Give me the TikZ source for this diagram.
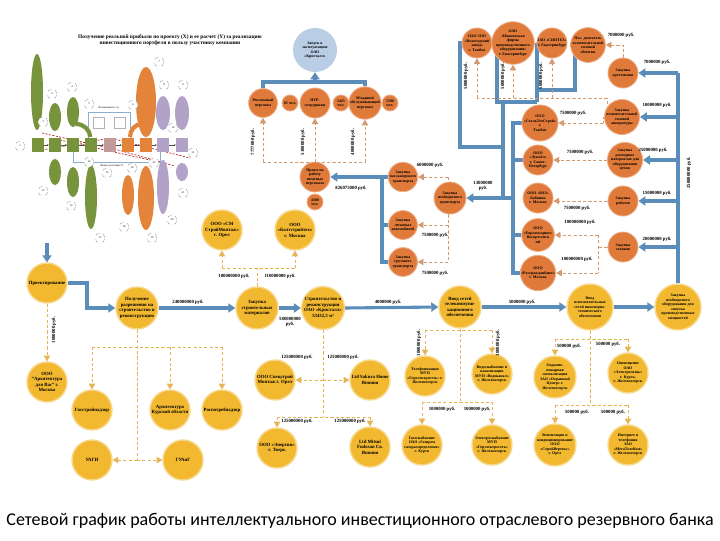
\documentclass[tikz,border=0pt]{standalone}
\usepackage{fontspec}
\setmainfont{Liberation Serif}
\newfontfamily\capfont{Carlito}
\usetikzlibrary{arrows.meta,shapes.geometric}
\definecolor{ygold}{HTML}{F2B830}
\definecolor{orng}{HTML}{E07A3A}
\definecolor{lblue}{HTML}{B9CDE5}
\definecolor{blu}{HTML}{5B8DBA}
\definecolor{ydsh}{HTML}{E6B455}
\definecolor{odsh}{HTML}{D39A70}
\definecolor{mgreen}{HTML}{77933C}
\definecolor{morange}{HTML}{E4843A}
\definecolor{mlav}{HTML}{B3A2C7}
\definecolor{mpink}{HTML}{C39A9A}
\pgfdeclarelayer{back}
\pgfdeclarelayer{bg}
\pgfsetlayers{back,bg,main}
\begin{document}
\begin{tikzpicture}[x=0.025cm,y=-0.025cm,
 txt/.style={font=\fontsize{3.4}{3.9}\selectfont\bfseries},
 stxt/.style={font=\fontsize{2.8}{3.2}\selectfont\bfseries},
 yc/.style={circle,fill=ygold,draw=ygold!55,line width=1pt,inner sep=0pt,minimum size=1cm,align=center,txt},
 ys/.style={yc,stxt},
 oc/.style={circle,fill=orng,draw=orng!60,line width=0.6pt,inner sep=0pt,minimum size=0.75cm,align=center,stxt},
 os/.style={circle,fill=orng,draw=orng!60,line width=0.6pt,inner sep=0pt,minimum size=0.4cm,align=center,stxt},
 bl/.style={draw=blu,line width=2.2pt},
 ba/.style={bl,-{Triangle[length=5pt,width=6.5pt]}},
 yd/.style={draw=ydsh,line width=0.6pt,dash pattern=on 2.2pt off 1.6pt},
 yda/.style={yd,-{Triangle[length=4pt,width=4.5pt]}},
 od/.style={draw=odsh,line width=0.6pt,dash pattern=on 2.2pt off 1.6pt},
 oda/.style={od,-{Triangle[length=4pt,width=4.5pt]}},
 lab/.style={txt,inner sep=0.5pt},
 mc/.style={draw=gray!70,dashed,line width=0.3pt,fill=white},
]
\begin{pgfonlayer}{back}
\fill[white] (0,0) rectangle (720,540);
\end{pgfonlayer}
\useasboundingbox (0,0) rectangle (720,540);

% ---------------- mini diagram (top left) ----------------
\node[font=\fontsize{3.8}{4.3}\selectfont\bfseries,align=center] (mtitle) at (170,40)
 {Получение реальной прибыли по проекту (X) и ее расчет (Y) за реализацию\\инвестиционного портфеля в пользу участнику компании};
\draw[blu!70,line width=0.5pt] (88,150) -- (88,112) -- (130,112) -- (130,150);
\node[font=\fontsize{2}{2.3}\selectfont] (mtop) at (109,108) {Вложения (в т.ч.)};
\fill[white,draw=gray!60,line width=0.2pt] (93,117) rectangle (104,128);
\fill[white,draw=gray!60,line width=0.2pt] (114,117) rectangle (125,128);
\draw[blu!70,line width=0.7pt] (73,152) -- (73,162) -- (160,162) -- (160,152);
\node[font=\fontsize{2}{2.3}\selectfont] (mbot) at (112,166) {Вклад участника Y};
\draw[red!65!black,line width=0.4pt,dash pattern=on 1.5pt off 1pt] (42,133) -- (118,150) -- (175,166);
\draw[red!65!black,line width=0.4pt,dash pattern=on 1.5pt off 1pt] (42,150) -- (110,138) -- (190,158);
\draw[red!65!black,line width=0.4pt,dash pattern=on 1.5pt off 1pt] (60,140) -- (150,160);
% ellipses above
\fill[mgreen] (37,92) ellipse [x radius=6, y radius=38];
\fill[mgreen] (55,117) ellipse [x radius=6, y radius=14];
\fill[mgreen] (73,112) ellipse [x radius=6, y radius=15];
\fill[morange] (146,102) ellipse [x radius=10, y radius=35];
\fill[mlav] (163,113) ellipse [x radius=7, y radius=17];
\fill[mlav] (182,113) ellipse [x radius=7, y radius=17];
% ellipses below
\fill[mgreen] (55,172) ellipse [x radius=6, y radius=13];
\fill[mgreen] (73,182) ellipse [x radius=6, y radius=15];
\fill[mgreen] (91,197) ellipse [x radius=6, y radius=32];
\fill[morange] (128,195) ellipse [x radius=6, y radius=20];
\fill[morange] (146,198) ellipse [x radius=8, y radius=32];
\fill[mlav] (163,187) ellipse [x radius=6, y radius=27];
\fill[mlav] (182,172) ellipse [x radius=6, y radius=9];
\draw[mgreen,line width=3pt] (76,124) to[out=0,in=90] (90,137);
\draw[morange,line width=3pt] (142,124) to[out=180,in=90] (130,137);
% rectangles
\foreach \x in {38,55,73,91} \fill[mgreen] (\x-6,138) rectangle (\x+6,152);
\fill[mpink] (104,138) rectangle (116,152);
\foreach \x in {128,146} \fill[morange] (\x-6,138) rectangle (\x+6,152);
\foreach \x in {163,182} \fill[mlav] (\x-6,138) rectangle (\x+6,152);
\foreach \a/\b in {44/49,61/67,79/85,97/104,116/122,134/140,152/157,169/176}
  \draw[gray!60!black,line width=0.3pt,-{Stealth[length=1.5pt]}] (\a,145) -- (\b,145);
% small dashed circles
\foreach \cx/\cy/\n in {20/146/1,52/94/2,43/122/3,72/87/4,89/104/5,133/105/6,159/62/7,164/85/8,183/85/9,173/128/10,193/153/11,43/191/12,71/206/13,89/162/14,107/173/15,132/168/16,100/238/17,124/227/18,152/238/19,172/220/20,183/193/21,154/163/22}
  \node[mc,circle,inner sep=0pt,minimum size=0.25cm,font=\fontsize{2}{2}\selectfont] at (\cx,\cy) {\n};

% ---------------- light blue + top orange ----------------
\node[circle,fill=lblue,inner sep=0pt,minimum size=1.1cm,align=center,stxt] (b1) at (315,50) {Запуск в\\эксплуатацию\\ОАО\\«Кристалл»};
\node[oc,minimum size=0.72cm] (o1) at (263,103) {Рекламный\\персонал};
\node[os] (o1s) at (290,103) {05 чел.};
\node[oc] (o2) at (315,103) {ИТР-\\сотрудники};
\node[os] (o2s) at (341,103) {1425\\чел.};
\node[oc] (o3) at (365,103) {Младший\\обслуживающий\\персонал};
\node[os] (o3s) at (390,103) {5500\\чел.};
\node[oc] (o4) at (315,177) {Прием на\\работу\\штатных\\персонала};
\node[os] (o4s) at (315,202) {4300\\чел.};
\node[oc,minimum size=0.72cm] (o5) at (403,177) {Закупка\\пассажирского\\транспорта};
\node[oc,minimum size=0.8cm] (o6) at (450,198) {Закупка\\необходимого\\транспорта};
\node[oc,minimum size=0.72cm] (o7) at (403,225) {Закупка\\легковых\\автомобилей};
\node[oc,minimum size=0.72cm] (o8) at (403,262) {Закупка\\грузового\\транспорта};

% top suppliers
\node[oc] (o9) at (477,43) {ОАО ЗОО\\«Вологодский\\завод»\\г. Тамбов};
\node[oc] (o10) at (513,43) {ОАО\\«Ивановская\\фирма\\производственного\\оборудования»\\г. Екатеринбург};
\node[oc] (o11) at (552,43) {ЗАО «СИНТЕЗ»\\г. Екатеринбург};
\node[oc] (o12) at (588,45) {Пос. двигатель\\вспомогательной\\силовой\\обмотки};
\node[oc] (o13) at (623,73) {Закупка\\оргтехники};
\node[oc] (o14) at (622,117) {Закупка\\вспомогательной\\силовой\\аппаратуры};
\node[oc] (o15) at (540,123) {ООО\\«СтальТехСтрой»\\г.\\Тамбов};
\node[oc] (o16) at (625,160) {Закупка\\расходных\\материалов для\\оборудования\\цехов};
\node[oc] (o17) at (538,160) {ООО\\«Лукойл»\\г. Санкт-\\Петербург};
\node[oc] (o18) at (623,201) {Закупка\\роботов};
\node[oc] (o19) at (538,198) {ООО «ВАЗ»\\Бабкина\\г. Москва};
\node[oc] (o20) at (623,247) {Закупка\\станков};
\node[oc] (o21) at (538,235) {ООО\\«Евразхолдинг»\\Воскресенск\\ий};
\node[oc] (o22) at (538,273) {ООО\\«Росгражданбанк»\\г. Москва};

% ---------------- yellow ----------------
\node[yc] (y1) at (47,283) {Проектирование};
\node[yc,minimum size=1.05cm] (y2) at (137,308) {Получение\\разрешения на\\строительство и\\реконструкцию};
\node[yc,minimum size=1.05cm] (y3) at (257,308) {Закупка\\строительных\\материалов};
\node[yc,minimum size=1.05cm] (y4) at (323,308) {Строительство и\\реконструкция\\ОАО «Кристалл»\\53432,3 м²};
\node[yc,minimum size=1.05cm] (y5) at (460,307) {Ввод сетей\\телекоммуни-\\кационного\\обеспечения};
\node[ys,minimum size=1.15cm] (y6) at (590,307) {Ввод\\вспомогательных\\сетей инженерно-\\технического\\обеспечения};
\node[ys,minimum size=1.15cm] (y7) at (678,307) {Закупка\\необходимого\\оборудования для\\запуска\\производственных\\мощностей};
\node[yc] (y8) at (222,230) {ООО «СМ\\СтройМонтаж»\\г. Орел};
\node[yc] (y9) at (295,230) {ООО\\«Балтстройтех»\\г. Москва};
\node[yc] (y10) at (47,382) {ООО\\"Архитектура\\для Вас" г.\\Москва};
\node[yc] (y11) at (92,410) {Госстройнадзор};
\node[yc] (y12) at (170,410) {Архитектура\\Курской области};
\node[yc] (y13) at (222,410) {Роспотребнадзор};
\node[yc] (y14) at (92,460) {УАГИ};
\node[yc] (y15) at (183,460) {ГУАиГ};
\node[yc] (y16) at (275,380) {ООО Спецстрой\\Монтаж г. Орел};
\node[yc] (y17) at (370,380) {Ltd Sakura Home\\Япония};
\node[yc] (y18) at (277,448) {ООО «Энергия»\\г. Тверь};
\node[yc] (y19) at (370,447) {Ltd Mitsui\\Fudosan Co.\\Япония};
\node[ys] (y20) at (425,376) {Телефонизация\\МУП\\«Горэлектросеть» г.\\Железногорск};
\node[ys] (y21) at (492,374) {Водоснабжение и\\канализация\\МУП «Водоканал»\\г. Железногорск};
\node[ys] (y22) at (422,445) {Газоснабжение\\ОАО «Газпром\\газораспределение»\\г. Курск};
\node[ys] (y23) at (492,445) {Электроснабжение\\МУП\\«Горэлектросеть»\\г. Железногорск};
\node[ys,minimum size=1.05cm] (y24) at (555,377) {Охранно-\\пожарная\\сигнализация\\ЗАО «Охранный\\Центр» г.\\Железногорск};
\node[ys] (y25) at (628,373) {Оповещение\\ОАО\\«Электросвязь»\\г. Курск,\\г. Железногорск};
\node[ys] (y26) at (555,445) {Вентиляция и\\кондиционирование\\ООО\\«СтройВертекс»\\г. Орел};
\node[ys] (y27) at (628,445) {Интернет и\\телефония\\ЗАО\\«МегаТелеКом»\\г. Железногорск};

% ---------------- connectors ----------------
\begin{pgfonlayer}{bg}
% top blue
\draw[bl] (o1.north) -- (263,82) -- (365,82) -- (o3.north);
\draw[ba] (315,82) -- (b1.south);
\draw[od] (263,162) -- (365,162);
\draw[od] (o4.north) -- (315,162);
\draw[oda] (263,162) -- (o1.south);
\draw[oda] (315,162) -- (o2.south);
\draw[oda] (365,162) -- (o3.south);
% transport
\draw[ba] (o5.west) -- (o4.east);
\draw[bl] (382,177) -- (382,262) -- (o8.west);
\draw[bl] (382,225) -- (o7.west);
\draw[od] (448,177) -- (448,262);
\draw[oda] (448,177) -- (o5.east);
\draw[oda] (448,225) -- (o7.east);
\draw[oda] (448,262) -- (o8.east);
\draw[ba] (513,198) -- (o6.east);
% suppliers top
\draw[bl] (o9.west) -| (460,147) -- (503,147);
\draw[bl] (o10.west) -| (497,102) -- (537,102);
\draw[bl] (o11.west) -| (537,102);
\draw[bl] (o12.west) -| (575,90) -- (537,90);
\draw[bl] (503,102) -- (503,198);
\draw[bl] (o15.west) -| (513,273) -- (o22.west);
\draw[bl] (513,160) -- (o17.west);
\draw[bl] (513,235) -- (o21.west);
\draw[oda] (o13.north) |- (o12.east);
\draw[od] (o14.west) -| (607,98) -- (477,98);
\draw[oda] (477,98) -- (o9.south);
\draw[oda] (513,98) -- (o10.south);
\draw[oda] (552,98) -- (o11.south);
\draw[od] (o14.west) -| (603,123);
\draw[oda] (603,123) -- (o15.east);
\draw[oda] (o16.west) -- (o17.east);
\draw[oda] (o18.west) -- (o19.east |- o18.west);
\draw[od] (o20.west) -- (598,247);
\draw[od] (598,235) -- (598,273);
\draw[oda] (598,235) -- (o21.east);
\draw[oda] (598,273) -- (o22.east);
% right trunk
\draw[bl] (y7.north) -- (678,73);
\draw[ba] (678,73) -- (o13.east);
\draw[ba] (678,117) -- (o14.east);
\draw[ba] (678,160) -- (o16.east);
\draw[ba] (678,201) -- (o18.east);
\draw[ba] (678,247) -- (o20.east);
% main row
\draw[ba] (47,243) -- (y1.north);
\draw[ba] (y1.east) -- (87,283) -- (87,308) -- (y2.west);
\draw[ba] (y2.east) -- (y3.west);
\draw[ba] (y3.east) -- (y4.west);
\draw[ba] (y4.east) -- (y5.west);
\draw[ba] (y5.east) -- (y6.west);
\draw[ba] (y6.east) -- (y7.west);
% yellow dashed
\draw[yda] (y1.south) -- (y10.north);
\draw[yd] (y2.south) -- (137,460);
\draw[yd] (92,347) -- (222,347);
\draw[yda] (92,347) -- (y11.north);
\draw[yda] (170,347) -- (y12.north);
\draw[yda] (222,347) -- (y13.north);
\draw[yda] (137,460) -- (y14.east);
\draw[yda] (137,460) -- (y15.west);
\draw[yd] (y3.north) -- (257,268);
\draw[yd] (222,268) -- (295,268);
\draw[yda] (222,268) -- (y8.south);
\draw[yda] (295,268) -- (y9.south);
\draw[yd] (y4.south) -- (323,417);
\draw[yda] (323,380) -- (y16.east);
\draw[yda] (323,380) -- (y17.west);
\draw[yd] (277,417) -- (370,417);
\draw[yda] (277,417) -- (y18.north);
\draw[yda] (370,417) -- (y19.north);
\draw[yd] (y5.south) -- (460,402);
\draw[yd] (425,330) -- (492,330);
\draw[yda] (425,330) -- (y20.north);
\draw[yda] (492,330) -- (y21.north);
\draw[yd] (422,402) -- (492,402);
\draw[yda] (422,402) -- (y22.north);
\draw[yda] (492,402) -- (y23.north);
\draw[yd] (y6.south) -- (590,405);
\draw[yd] (555,339) -- (628,339);
\draw[yda] (555,339) -- (y24.north);
\draw[yda] (628,339) -- (y25.north);
\draw[yd] (555,405) -- (628,405);
\draw[yda] (555,405) -- (y26.north);
\draw[yda] (628,405) -- (y27.north);
\end{pgfonlayer}

% ---------------- labels ----------------
\node[lab,rotate=90] (l1) at (253,142) {7777000 руб.};
\node[lab,rotate=90] (l2) at (303,142) {5100000 руб.};
\node[lab,rotate=90] (l3) at (353,142) {4000000 руб.};
\node[lab] (l4) at (351,188) {826075000 руб.};
\node[lab] (l5) at (430,165) {6000000 руб.};
\node[lab] (l6) at (435,235) {7500000 руб.};
\node[lab] (l7) at (435,273) {7500000 руб.};
\node[lab,align=center] (l8) at (483,186) {13000000\\руб.};
\node[lab,rotate=90] (l9) at (466,76) {5000000 руб.};
\node[lab,rotate=90] (l10) at (503,76) {5000000 руб.};
\node[lab,rotate=90] (l11) at (541,76) {5000000 руб.};
\node[lab] (l12) at (621,35) {7000000 руб.};
\node[lab] (l13) at (657,62) {7000000 руб.};
\node[lab] (l14) at (657,105) {10000000 руб.};
\node[lab] (l15) at (653,150) {25000000 руб.};
\node[lab] (l16) at (657,193) {15000000 руб.};
\node[lab] (l17) at (657,239) {20000000 руб.};
\node[lab,rotate=90] (l18) at (689,173) {250000000 руб.};
\node[lab] (l19) at (573,113) {7500000 руб.};
\node[lab] (l20) at (580,152) {7500000 руб.};
\node[lab] (l21) at (577,208) {7500000 руб.};
\node[lab] (l22) at (580,222) {100000000 руб.};
\node[lab] (l23) at (577,259) {100000000 руб.};
\node[lab] (l24) at (188,302) {240000000 руб.};
\node[lab,align=center] (l25) at (290,322) {580000000\\руб.};
\node[lab] (l26) at (388,302) {4000000 руб.};
\node[lab] (l27) at (522,302) {5000000 руб.};
\node[lab] (l28) at (234,276) {100000000 руб.};
\node[lab] (l29) at (280,276) {110000000 руб.};
\node[lab,rotate=90] (l30) at (54,330) {1000000 руб.};
\node[lab] (l31) at (297,357) {125000000 руб.};
\node[lab] (l32) at (343,357) {125000000 руб.};
\node[lab] (l33) at (297,421) {125000000 руб.};
\node[lab] (l34) at (350,421) {125000000 руб.};
\node[lab,rotate=90] (l35) at (419,343) {1000000 руб.};
\node[lab,rotate=90] (l36) at (498,343) {1000000 руб.};
\node[lab] (l37) at (442,409) {1000000 руб.};
\node[lab] (l38) at (477,409) {1000000 руб.};
\node[lab] (l39) at (569,346) {500000 руб.};
\node[lab] (l40) at (608,344) {500000 руб.};
\node[lab] (l41) at (577,412) {500000 руб.};
\node[lab] (l42) at (613,412) {500000 руб.};

% caption
\node[font=\capfont\fontsize{12.8}{14}\selectfont] (cap) at (360,521)
 {Сетевой график работы интеллектуального инвестиционного отраслевого резервного банка};
\end{tikzpicture}
\end{document}
